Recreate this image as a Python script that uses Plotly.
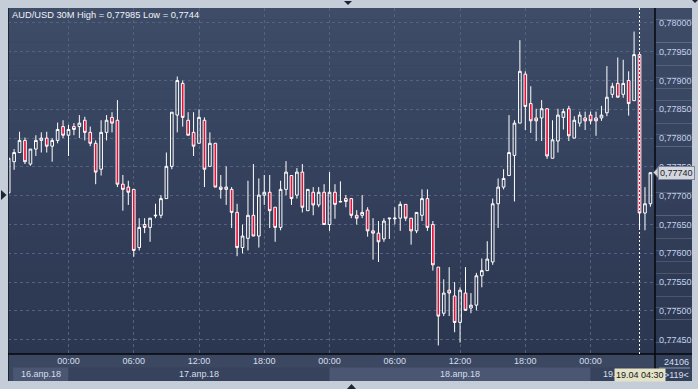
import plotly.graph_objects as go
import pandas as pd

symbol = "AUD/USD"
timeframe = "30M"
times = pd.date_range("2018-04-16 18:30", periods=119, freq="30min")

opens = [
    0.77705, 0.77759, 0.77775, 0.77796, 0.77755, 0.77781, 0.77796, 0.77800, 0.77786, 0.77796,
    0.77820, 0.77805, 0.77820, 0.77820, 0.77831, 0.77810, 0.77791, 0.77746, 0.77810, 0.77836,
    0.77831, 0.77720, 0.77715, 0.77711, 0.77610, 0.77650, 0.77645, 0.77665, 0.77666, 0.77695,
    0.77751, 0.77840, 0.77895, 0.77831, 0.77810, 0.77791, 0.77831, 0.77751, 0.77791, 0.77715,
    0.77711, 0.77711, 0.77671, 0.77610, 0.77626, 0.77666, 0.77630, 0.77701, 0.77706, 0.77680,
    0.77645, 0.77711, 0.77735, 0.77701, 0.77741, 0.77674, 0.77706, 0.77684, 0.77706, 0.77650,
    0.77706, 0.77689, 0.77695, 0.77695, 0.77666, 0.77666, 0.77675, 0.77639, 0.77635, 0.77625,
    0.77660, 0.77660, 0.77661, 0.77685, 0.77661, 0.77639, 0.77666, 0.77695, 0.77650, 0.77576,
    0.77496, 0.77536, 0.77526, 0.77480, 0.77531, 0.77505, 0.77510, 0.77561, 0.77570, 0.77585,
    0.77686, 0.77715, 0.77735, 0.77770, 0.77826, 0.77911, 0.77860, 0.77835, 0.77835, 0.77851,
    0.77765, 0.77795, 0.77836, 0.77851, 0.77800, 0.77826, 0.77835, 0.77840, 0.77835, 0.77835,
    0.77844, 0.77876, 0.77895, 0.77876, 0.77900, 0.77865, 0.77945, 0.77670, 0.77686,
]
highs = [
    0.77767, 0.77781, 0.77811, 0.77801, 0.77781, 0.77805, 0.77810, 0.77811, 0.77800, 0.77827,
    0.77831, 0.77823, 0.77826, 0.77840, 0.77837, 0.77820, 0.77796, 0.77831, 0.77840, 0.77845,
    0.77866, 0.77736, 0.77726, 0.77711, 0.77661, 0.77661, 0.77661, 0.77686, 0.77701, 0.77775,
    0.77845, 0.77907, 0.77900, 0.77845, 0.77845, 0.77850, 0.77836, 0.77810, 0.77791, 0.77736,
    0.77751, 0.77715, 0.77686, 0.77650, 0.77726, 0.77755, 0.77730, 0.77736, 0.77736, 0.77680,
    0.77726, 0.77760, 0.77735, 0.77748, 0.77755, 0.77711, 0.77715, 0.77715, 0.77720, 0.77741,
    0.77720, 0.77725, 0.77701, 0.77695, 0.77675, 0.77701, 0.77680, 0.77661, 0.77656, 0.77661,
    0.77661, 0.77680, 0.77690, 0.77685, 0.77661, 0.77671, 0.77711, 0.77711, 0.77656, 0.77576,
    0.77555, 0.77576, 0.77550, 0.77541, 0.77576, 0.77531, 0.77566, 0.77591, 0.77621, 0.77695,
    0.77730, 0.77746, 0.77840, 0.77831, 0.77970, 0.77916, 0.77890, 0.77851, 0.77866, 0.77851,
    0.77831, 0.77851, 0.77851, 0.77856, 0.77838, 0.77846, 0.77846, 0.77846, 0.77846, 0.77856,
    0.77925, 0.77896, 0.77940, 0.77936, 0.77916, 0.77985, 0.77945, 0.77715, 0.77740,
]
lows = [
    0.77703, 0.77745, 0.77774, 0.77755, 0.77752, 0.77769, 0.77775, 0.77775, 0.77759, 0.77791,
    0.77800, 0.77769, 0.77805, 0.77800, 0.77796, 0.77786, 0.77720, 0.77735, 0.77796, 0.77810,
    0.77715, 0.77674, 0.77684, 0.77594, 0.77605, 0.77635, 0.77620, 0.77661, 0.77661, 0.77695,
    0.77746, 0.77810, 0.77820, 0.77805, 0.77769, 0.77791, 0.77715, 0.77751, 0.77715, 0.77695,
    0.77684, 0.77644, 0.77595, 0.77600, 0.77605, 0.77630, 0.77610, 0.77684, 0.77644, 0.77620,
    0.77640, 0.77701, 0.77684, 0.77695, 0.77671, 0.77674, 0.77666, 0.77680, 0.77650, 0.77639,
    0.77660, 0.77689, 0.77680, 0.77661, 0.77650, 0.77661, 0.77629, 0.77589, 0.77585, 0.77620,
    0.77625, 0.77650, 0.77639, 0.77656, 0.77615, 0.77635, 0.77656, 0.77639, 0.77570, 0.77440,
    0.77491, 0.77491, 0.77463, 0.77445, 0.77501, 0.77496, 0.77501, 0.77541, 0.77570, 0.77580,
    0.77644, 0.77711, 0.77735, 0.77690, 0.77826, 0.77814, 0.77809, 0.77795, 0.77795, 0.77764,
    0.77765, 0.77775, 0.77815, 0.77795, 0.77800, 0.77820, 0.77814, 0.77824, 0.77804, 0.77830,
    0.77838, 0.77870, 0.77871, 0.77870, 0.77839, 0.77865, 0.77641, 0.77640, 0.77681,
]
closes = [
    0.77765, 0.77775, 0.77796, 0.77759, 0.77781, 0.77796, 0.77800, 0.77786, 0.77796, 0.77815,
    0.77805, 0.77815, 0.77815, 0.77826, 0.77810, 0.77791, 0.77741, 0.77810, 0.77831, 0.77826,
    0.77720, 0.77711, 0.77706, 0.77605, 0.77645, 0.77645, 0.77661, 0.77666, 0.77695, 0.77751,
    0.77845, 0.77900, 0.77836, 0.77805, 0.77786, 0.77836, 0.77746, 0.77791, 0.77715, 0.77711,
    0.77715, 0.77671, 0.77610, 0.77630, 0.77666, 0.77630, 0.77701, 0.77706, 0.77674, 0.77645,
    0.77711, 0.77741, 0.77695, 0.77741, 0.77680, 0.77711, 0.77684, 0.77706, 0.77650, 0.77706,
    0.77685, 0.77690, 0.77690, 0.77666, 0.77661, 0.77671, 0.77639, 0.77635, 0.77620, 0.77656,
    0.77661, 0.77661, 0.77685, 0.77661, 0.77639, 0.77671, 0.77695, 0.77645, 0.77580, 0.77491,
    0.77531, 0.77531, 0.77480, 0.77536, 0.77501, 0.77510, 0.77561, 0.77570, 0.77590, 0.77686,
    0.77715, 0.77730, 0.77775, 0.77826, 0.77916, 0.77855, 0.77830, 0.77830, 0.77851, 0.77769,
    0.77797, 0.77840, 0.77846, 0.77804, 0.77831, 0.77840, 0.77830, 0.77830, 0.77830, 0.77840,
    0.77871, 0.77890, 0.77871, 0.77895, 0.77860, 0.77945, 0.77670, 0.77686, 0.77740,
]

price_ticks = [0.7745, 0.7750, 0.7755, 0.7760, 0.7765, 0.7770, 0.7775, 0.7780, 0.7785, 0.7790, 0.7795, 0.7800]
time_ticks = list(pd.date_range("2018-04-17 00:00", "2018-04-19 00:00", freq="6h"))
time_tick_labels = ["00:00", "06:00", "12:00", "18:00", "00:00", "06:00", "12:00", "18:00", "00:00"]
day_starts = ["2018-04-16 18:55", "2018-04-17 00:00", "2018-04-18 00:00", "2018-04-19 00:00"]
day_labels = ["16.апр.18", "17.апр.18", "18.апр.18", "19.апр.18"]
crosshair_time = "2018-04-19 04:30"
crosshair_label = "19.04 04:30"
volume_text = "24106"
bar_count_text = ">119<"

x_range = [pd.Timestamp("2018-04-16 18:26:20"), pd.Timestamp("2018-04-19 05:55:20")]
y_range = [0.774252, 0.780259]

W, H = 698, 389
PL, PR, PT, PB = 8, 655, 8, 354  # plot area in pixels


def px(X):
    return (X - PL) / (PR - PL)


def py(Y):
    return (PB - Y) / (PB - PT)


def fmt(v, trim=False):
    s = f"{v:.5f}"
    if trim:
        s = s.rstrip("0")
    return s.replace(".", ",")


FONT = "Liberation Sans, Arial, sans-serif"
FS = 9
fig = go.Figure()

fig.add_trace(go.Candlestick(
    x=times, open=opens, high=highs, low=lows, close=closes,
    increasing=dict(line=dict(color="#ffffff", width=1), fillcolor="rgba(0,0,0,0)"),
    decreasing=dict(line=dict(color="#ffffff", width=1), fillcolor="#e3123b"),
    whiskerwidth=0, hoverinfo="skip", showlegend=False,
))

shapes = []
# gradient background for plot + price axis
N = 30
top = (62, 76, 104)
bot = (43, 54, 80)
for i in range(N):
    f = i / (N - 1)
    c = tuple(round(top[k] + (bot[k] - top[k]) * f) for k in range(3))
    shapes.append(dict(type="rect", xref="paper", yref="paper",
                       x0=px(PL), x1=px(692), y0=1 - (i + 1) / N, y1=1 - i / N,
                       fillcolor="rgb(%d,%d,%d)" % c, line=dict(width=0), layer="below"))
# time axis area
shapes.append(dict(type="rect", xref="paper", yref="paper", x0=px(PL), x1=px(692),
                   y0=py(381), y1=py(354), fillcolor="#3c4861", line=dict(width=0), layer="below"))
# day bands in lower row
band_ends = day_starts[1:] + [x_range[1]]
for i, (s, e) in enumerate(zip(day_starts, band_ends)):
    col = "#4b5772" if i % 2 == 0 else "#37435c"
    shapes.append(dict(type="rect", xref="x", yref="paper", x0=s, x1=e,
                       y0=py(381), y1=py(367.5), fillcolor=col, line=dict(width=0), layer="below"))
# corner
shapes.append(dict(type="rect", xref="paper", yref="paper", x0=px(PR), x1=px(692),
                   y0=py(381), y1=py(354), fillcolor="#33405a", line=dict(width=0), layer="below"))
# borders
shapes.append(dict(type="line", xref="paper", yref="paper", x0=px(8.5), x1=px(8.5),
                   y0=py(381), y1=py(8), line=dict(color="#1f2533", width=1)))
shapes.append(dict(type="line", xref="paper", yref="paper", x0=px(PR), x1=px(PR),
                   y0=py(381), y1=py(8), line=dict(color="#05070b", width=1.5)))
shapes.append(dict(type="line", xref="paper", yref="paper", x0=px(8), x1=px(692),
                   y0=py(354), y1=py(354), line=dict(color="#05070b", width=1.5)))
shapes.append(dict(type="line", xref="paper", yref="paper", x0=px(659), x1=px(690),
                   y0=py(368), y1=py(368), line=dict(color="#8793aa", width=1)))
# crosshair
shapes.append(dict(type="line", xref="x", yref="paper", x0=crosshair_time, x1=crosshair_time,
                   y0=0, y1=1, line=dict(color="#ffffff", width=1, dash="2px,2px")))
# price label pointer
yl = closes[-1]
shapes.append(dict(type="path", xref="paper", yref="paper",
                   path="M %f,%f L %f,%f L %f,%f Z" % (px(658), py(167.5), px(653.5), py(172.5), px(658), py(177.5)),
                   fillcolor="#d4d7dd", line=dict(color="#7d8699", width=1)))
# small navigation triangles
tri = [((1, 190), (1, 200), (6.5, 195)),
       ((344, 1), (352, 1), (348, 5)),
       ((347, 389), (356, 389), (351.5, 384)),
       ((692, 0), (698, 0), (695, 3))]
for t in tri:
    (a, b, c) = t
    shapes.append(dict(type="path", xref="paper", yref="paper",
                       path="M %f,%f L %f,%f L %f,%f Z" % (px(a[0]), py(a[1]), px(b[0]), py(b[1]), px(c[0]), py(c[1])),
                       fillcolor="#1d2433", line=dict(width=0)))

annotations = []
title_text = f"{symbol} {timeframe} High = {fmt(max(highs))} Low = {fmt(min(lows), trim=True)}"
annotations.append(dict(xref="paper", yref="paper", x=px(9.5), y=py(14.5), xanchor="left", yanchor="middle",
                        text=title_text, showarrow=False, font=dict(family=FONT, size=FS + 0.3, color="#f0f2f7")))
# day labels centered on visible day segments
for s, e, lab in zip(day_starts, band_ends, day_labels):
    s_, e_ = pd.Timestamp(s), pd.Timestamp(e)
    mid = s_ + (e_ - s_) / 2
    annotations.append(dict(xref="x", yref="paper", x=mid, y=py(374), xanchor="center", yanchor="middle",
                            text=lab, showarrow=False, font=dict(family=FONT, size=FS, color="#d6deec")))
annotations.append(dict(xref="x", yref="paper", x=crosshair_time, y=py(374.5), xanchor="center", yanchor="middle",
                        text=crosshair_label, showarrow=False, bgcolor="#e4e3c8", borderpad=1,
                        font=dict(family=FONT, size=FS, color="#151515")))
annotations.append(dict(xref="paper", yref="y", x=px(657.5), y=yl, xanchor="left", yanchor="middle",
                        text=fmt(yl), showarrow=False, bgcolor="#d4d7dd", bordercolor="#7d8699",
                        borderwidth=1, borderpad=1, font=dict(family=FONT, size=FS, color="#1b2233")))
annotations.append(dict(xref="paper", yref="paper", x=px(676.5), y=py(362), xanchor="center", yanchor="middle",
                        text=volume_text, showarrow=False, font=dict(family=FONT, size=FS, color="#d6deec")))
annotations.append(dict(xref="paper", yref="paper", x=px(676.5), y=py(375), xanchor="center", yanchor="middle",
                        text=bar_count_text, showarrow=False, font=dict(family=FONT, size=FS, color="#d6deec")))

fig.update_layout(
    width=W, height=H,
    margin=dict(l=PL, r=W - PR, t=PT, b=H - PB, pad=0, autoexpand=False),
    paper_bgcolor="#c5cdd8",
    plot_bgcolor="#34405c",
    separators=",.",
    showlegend=False,
    shapes=shapes,
    annotations=annotations,
    xaxis=dict(
        type="date", range=x_range, rangeslider=dict(visible=False),
        tickvals=time_ticks, ticktext=time_tick_labels,
        showgrid=True, gridcolor="#55627e", griddash="3px,3px", gridwidth=1,
        zeroline=False, showline=False, ticks="", automargin=False,
        tickfont=dict(family=FONT, size=FS, color="#d6deec"),
        fixedrange=True,
    ),
    yaxis=dict(
        side="right", range=y_range, tickvals=price_ticks, tickformat=".5f",
        showgrid=True, gridcolor="#55627e", griddash="3px,3px", gridwidth=1,
        zeroline=False, showline=False, ticks="", automargin=False, ticklabelstandoff=3,
        tickfont=dict(family=FONT, size=FS, color="#c3d1ea"),
        fixedrange=True,
    ),
)

fig.write_html(
    "out.html",
    config={"displayModeBar": False},
    post_script="document.body.style.margin='0px';document.body.style.overflow='hidden';",
)
